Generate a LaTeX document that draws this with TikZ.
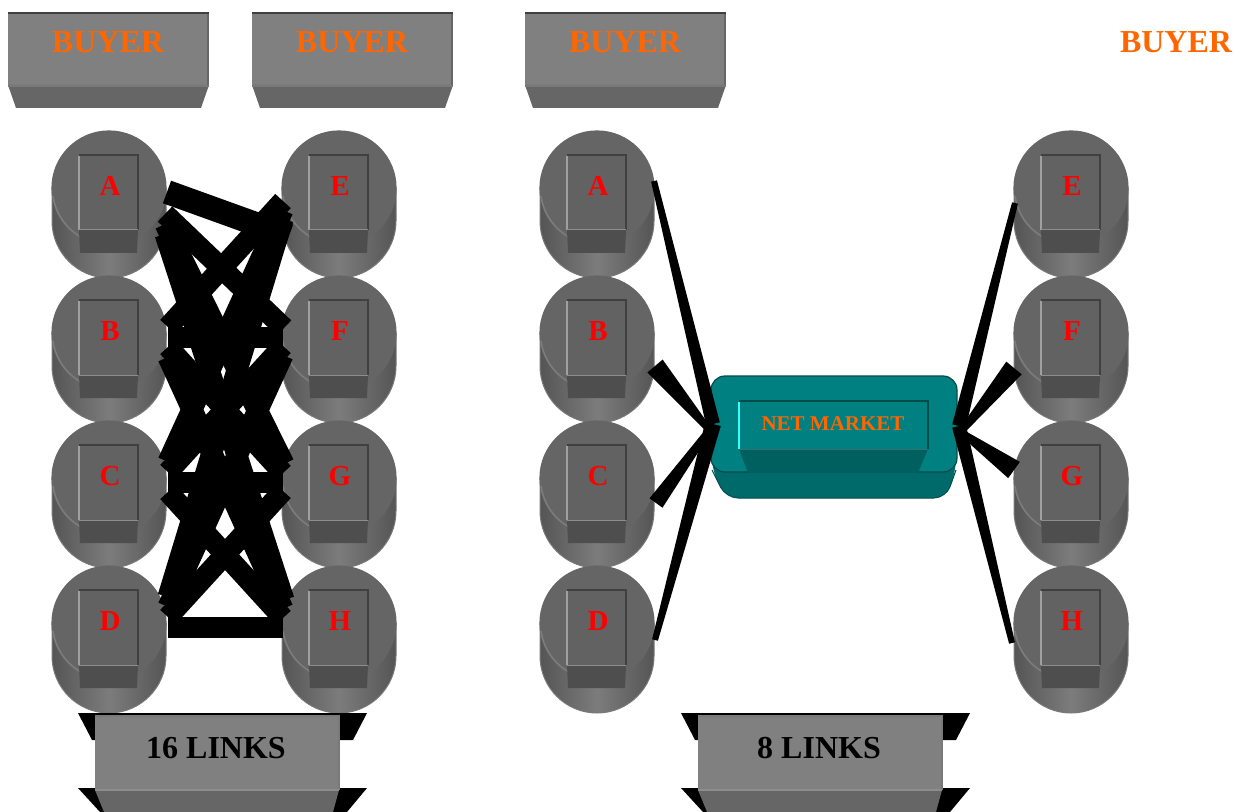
\documentclass[tikz,border=0pt]{standalone}
\usepackage{fontspec}
\setmainfont{Liberation Serif}
\usetikzlibrary{calc}

\definecolor{buyerorange}{HTML}{FF6600}
\definecolor{facegray}{HTML}{808080}
\definecolor{basegray}{HTML}{666666}
\definecolor{edgegray}{HTML}{404040}
\definecolor{cyltop}{HTML}{656565}
\definecolor{cyldark}{HTML}{555555}
\definecolor{cyllight}{HTML}{7C7C7C}
\definecolor{cylbox}{HTML}{626262}
\definecolor{cylboxbase}{HTML}{4E4E4E}
\definecolor{cylhi}{HTML}{A0A0A0}
\definecolor{tealface}{HTML}{008080}
\definecolor{tealbase}{HTML}{006A6A}
\definecolor{tealedge}{HTML}{004C4C}
\definecolor{tealhi}{HTML}{33FFFF}

\tikzset{
  buyertext/.style={font=\fontsize{16}{16}\selectfont\bfseries, text=buyerorange, inner sep=0pt},
  lettertext/.style={font=\fontsize{14.5}{14.5}\selectfont\bfseries, text=red, inner sep=0pt},
  linkstext/.style={font=\fontsize{16}{16}\selectfont\bfseries, text=black, inner sep=0pt},
  markettext/.style={font=\fontsize{10.5}{10.5}\selectfont\bfseries, text=buyerorange, inner sep=0pt},
  mesh/.style={draw=black, line width=10.5pt, line cap=butt},
}

% buyer box: #1 name, #2 left edge
\newcommand\buyerbox[2]{%
  \fill[facegray] (#2,12) rectangle (#2+201,85);
  \fill[edgegray!80] (#2+199,12) rectangle (#2+201,85);
  \fill[basegray] (#2,85) -- (#2+201,85) -- (#2+193,108) -- (#2+8,108) -- cycle;
  \draw[edgegray, line width=1pt] (#2,13) -- (#2+201,13);
  \draw[edgegray!70, line width=1pt] (#2,86) -- (#2+201,86);
  \node[buyertext] (#1) at (#2+100,42) {BUYER};
}

% cylinder with a square plate on top: #1 name, #2 x, #3 y, #4 letter
\newcommand\cylnode[4]{%
  \shade[left color=cyldark, right color=cyldark, middle color=cyllight]
    (#2-57,#3) -- (#2-57,#3+33) arc[start angle=180, end angle=0, radius=57] -- (#2+57,#3) -- cycle;
  \draw[edgegray!70, line width=0.5pt]
    (#2-57,#3) -- (#2-57,#3+33) arc[start angle=180, end angle=0, radius=57] -- (#2+57,#3);
  \fill[cyltop] (#2,#3) circle (57);
  \draw[edgegray!80, line width=0.6pt] (#2,#3) circle (57);
  \draw[cyllight, line width=0.8pt] (#2-56,#3+8) arc[start angle=172, end angle=120, radius=56];
  \fill[cylbox] (#2-30,#3-33) rectangle (#2+29,#3+42);
  \fill[cylboxbase] (#2-30,#3+42) -- (#2+29,#3+42) -- (#2+28,#3+65) -- (#2-29,#3+65) -- cycle;
  \draw[edgegray, line width=0.6pt] (#2-30,#3-33) -- (#2+29,#3-33) -- (#2+29,#3+42);
  \draw[cylhi, line width=0.8pt] (#2-30,#3-32) -- (#2-30,#3+42);
  \draw[edgegray!60, line width=0.5pt] (#2-30,#3+42) -- (#2+29,#3+42);
  \node[lettertext] (#1) at (#2+1,#3-2) {#4};
}

% link-count plate: #1 name, #2 centre x, #3 text
\newcommand\linkbox[3]{%
  \fill[black] (#2-139,713) -- (#2+150,713) -- (#2+136,740) -- (#2-125,740) -- cycle;
  \fill[black] (#2-139,788) -- (#2+150,788) -- (#2+130,812) -- (#2-117,812) -- cycle;
  \fill[basegray] (#2-122,790) -- (#2+122,790) -- (#2+116,812) -- (#2-113,812) -- cycle;
  \fill[facegray] (#2-122,716) rectangle (#2+122,790);
  \draw[edgegray!70, line width=0.6pt] (#2-122,716) -- (#2+122,716) -- (#2+122,790);
  \draw[edgegray!60, line width=0.8pt] (#2-122,790) -- (#2+122,790);
  \node[linkstext] (#1) at (#2-1,748) {#3};
}

% tapered link: from #1 to #2, half widths #3 and #4
\newcommand\taper[4]{%
  \fill[black] ($(#1)!#3!90:(#2)$) -- ($(#2)!#4!-90:(#1)$) -- ($(#2)!#4!90:(#1)$) -- ($(#1)!#3!-90:(#2)$) -- cycle;
}

\begin{document}
\begin{tikzpicture}[x=0.5pt, y=-0.5pt]
\useasboundingbox (0,0) rectangle (1245,812);

% buyers
\buyerbox{buyerA}{8}
\buyerbox{buyerB}{252}
\buyerbox{buyerC}{525}
\node[buyertext] (buyerD) at (1176,42) {BUYER};

% left panel: everyone linked to everyone
\cylnode{L0}{109}{188}{A}
\cylnode{L1}{109}{333}{B}
\cylnode{L2}{109}{478}{C}
\cylnode{L3}{109}{623}{D}
\cylnode{R0}{339}{188}{E}
\cylnode{R1}{339}{333}{F}
\cylnode{R2}{339}{478}{G}
\cylnode{R3}{339}{623}{H}

\draw[mesh, line width=12pt] ($(L0)+(57,6)$) -- ($(R0)+(-51,50)$);
\foreach \i in {0,1,2,3}{
  \foreach \j in {0,1,2,3}{
    \ifnum\i=0 \ifnum\j=0 \else
      \draw[mesh] ($(L\i)+(55,{18+10*(\j-\i)})$) -- ($(R\j)+(-56,{6+9*(\i-\j)})$);
    \fi \else
      \draw[mesh] ($(L\i)+(58,{6+10*(\j-\i)})$) -- ($(R\j)+(-57,{6+9*(\i-\j)})$);
    \fi
  }
}

\linkbox{links16}{217}{16 LINKS}

% right panel: everyone linked through the net market
\cylnode{RA}{597}{188}{A}
\cylnode{RB}{597}{333}{B}
\cylnode{RC}{597}{478}{C}
\cylnode{RD}{597}{623}{D}
\cylnode{RE}{1071}{188}{E}
\cylnode{RF}{1071}{333}{F}
\cylnode{RG}{1071}{478}{G}
\cylnode{RH}{1071}{623}{H}

% net market block
\fill[tealbase, rounded corners=6pt] (712,430) -- (712,470) -- (726,498) -- (946,498) -- (956,470) -- (956,430) -- cycle;
\draw[tealedge, line width=0.5pt, rounded corners=6pt] (712,470) -- (726,498) -- (946,498) -- (956,470);
\fill[tealface, rounded corners=7pt] (711,376) rectangle (957,472);
\draw[tealedge, line width=0.6pt, rounded corners=7pt] (711,376) rectangle (957,472);
\fill[tealbase!90!black] (739,449) -- (928,449) -- (918,473) -- (748,473) -- cycle;
\fill[tealface] (739,401) rectangle (928,449);
\draw[tealedge, line width=0.8pt] (739,401) -- (928,401) -- (928,449);
\draw[tealhi, line width=1pt] (739,402) -- (739,449);
\draw[tealedge!80, line width=0.5pt] (739,449) -- (928,449);
\node[markettext] (market) at (833,424) {NET MARKET};

\coordinate (mL1) at ($(market)+(-120,0)$);
\coordinate (mL2) at ($(market)+(-124,6)$);
\coordinate (mR1) at ($(market)+(126,2)$);
\coordinate (mR2) at ($(market)+(128,8)$);

\taper{$(RA)+(56,-5)$}{mL1}{1.5pt}{3.5pt}
\taper{$(RB)+(57,35)$}{mL2}{5pt}{1.5pt}
\taper{$(RC)+(58,27)$}{mL2}{4pt}{1.5pt}
\taper{$(RD)+(57,19)$}{mL1}{1.5pt}{4pt}
\taper{$(RE)+(-57,17)$}{mR1}{1.5pt}{3.5pt}
\taper{$(RF)+(-58,37)$}{mR2}{5pt}{1.5pt}
\taper{$(RG)+(-58,-6)$}{mR2}{5pt}{1.5pt}
\taper{$(RH)+(-60,22)$}{mR1}{1.5pt}{3.5pt}

\linkbox{links8}{820}{8 LINKS}
\end{tikzpicture}
\end{document}
